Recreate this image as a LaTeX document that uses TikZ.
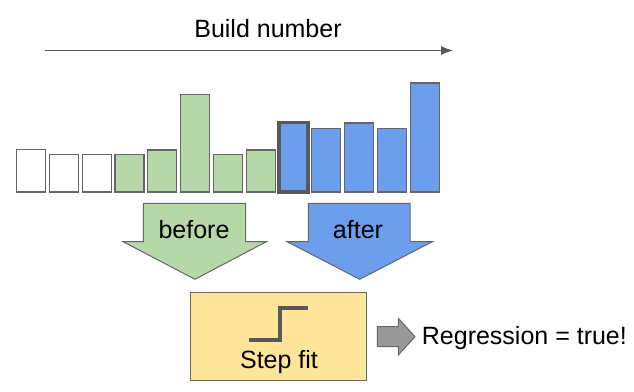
\documentclass[tikz,border=0pt]{standalone}
\usepackage{fontspec}
\setmainfont{Liberation Sans}
\usepackage{xcolor}
\usetikzlibrary{arrows.meta}
\usetikzlibrary{math}
\definecolor{barGreen}{HTML}{B6D7A8}
\definecolor{barBlue}{HTML}{6D9EEB}
\definecolor{fitYellow}{HTML}{FFE599}
\definecolor{lineGray}{HTML}{666666}
\definecolor{darkGray}{HTML}{595959}
\definecolor{arrowGray}{HTML}{999999}

\begin{document}
\begin{tikzpicture}[x=1pt,y=-1pt,
  bar/.style={draw=lineGray,line width=1.2pt},
  label/.style={font=\fontsize{25}{29}\selectfont,inner sep=0pt}]
\useasboundingbox (0,0) rectangle (634,391);
\tikzmath{
\xs=16.5;
\dx=32.8;
\bw=29;
\yb=192;
}

% build axis
\coordinate (start) at (45,50.5);
\coordinate (end) at (453,50.5);
\draw[-{Latex[length=12pt,width=9pt]},line width=1.2pt,darkGray] (start) -- (end);
\node[label,anchor=base] (build) at (268,37.3) {Build number};

% bars
\foreach \ytop/\col [count=\i from 0] in {149.7/white,154.7/white,154.7/white,154.7/barGreen,150/barGreen,94.3/barGreen,154.7/barGreen,150/barGreen,122.7/barBlue,128.7/barBlue,123/barBlue,128.7/barBlue,83/barBlue}
  \filldraw[bar,fill=\col] (\xs+\i*\dx,\yb) rectangle (\xs+\i*\dx+\bw,\ytop);
\draw[darkGray,line width=3.5pt] (\xs+8*\dx,\yb) rectangle (\xs+8*\dx+\bw,122.7);

% before / after
\filldraw[bar,line width=1pt,fill=barGreen] (143.3,203.3) -- (245.7,203.3) -- (245.7,241.5) -- (266.7,241.5)
  -- (195,279.3) -- (122.7,241.5) -- (143.3,241.5) -- cycle;
\filldraw[bar,line width=1pt,fill=barBlue] (308.3,203.3) -- (410,203.3) -- (410,241.5) -- (432.7,241.5)
  -- (359.7,279.3) -- (286.7,241.5) -- (308.3,241.5) -- cycle;
\node[label,anchor=base] (before) at (194,238.3) {before};
\node[label,anchor=base] (after) at (358,238.3) {after};

% step fit
\node[draw=lineGray,line width=1pt,fill=fitYellow,minimum width=176pt,minimum height=88.4pt] (stepfit) at (278.7,336.5) {};
\draw[darkGray,line width=4pt] (249,340) -- (280,340) -- (280,308.3) -- (308.3,308.3);
\node[label,anchor=base] (fitlabel) at (279,368.3) {Step fit};

% result
\filldraw[bar,line width=1pt,fill=arrowGray] (377.3,326.7) -- (398.3,326.7) -- (398.3,318.3) -- (415,336.7)
  -- (398.3,355) -- (398.3,346.7) -- (377.3,346.7) -- cycle;
\node[label,anchor=base west] (result) at (421.7,344.3) {Regression = true!};
\end{tikzpicture}
\end{document}
